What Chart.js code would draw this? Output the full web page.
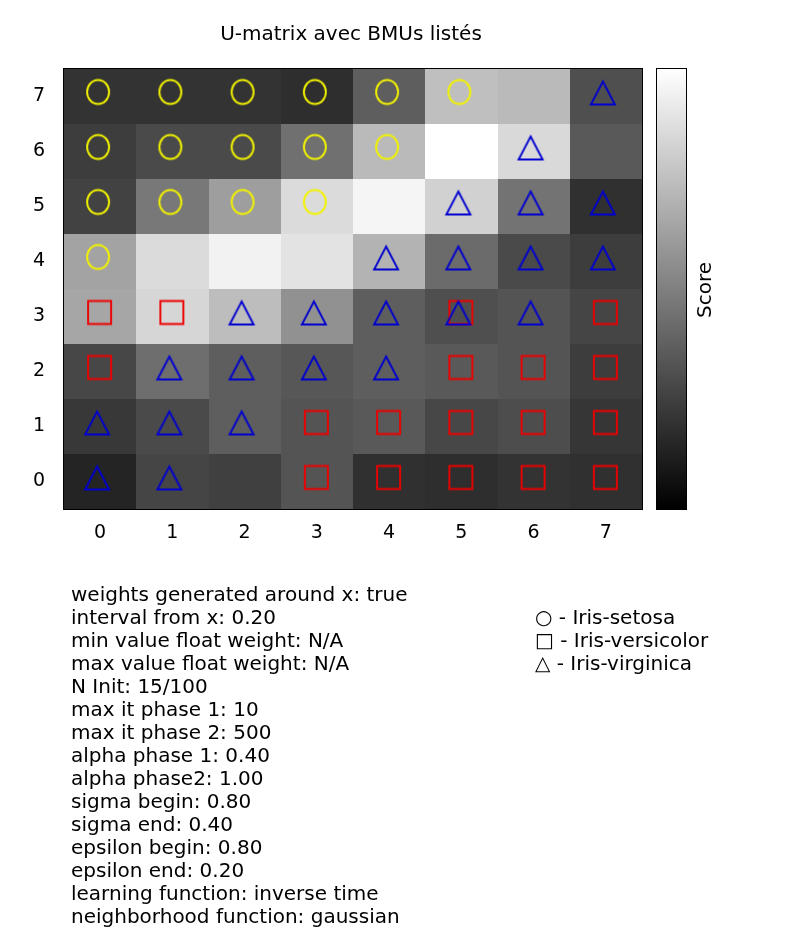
<!DOCTYPE html>
<html>
<head>
<meta charset="utf-8">
<script src="https://cdn.jsdelivr.net/npm/chart.js@4/dist/chart.umd.min.js"></script>
<style>
html,body{margin:0;padding:0;background:#fff;}
#wrap{position:relative;width:798px;height:947px;font-family:"DejaVu Sans",sans-serif;color:#000;overflow:hidden;}
#c{position:absolute;left:0;top:0;}
#title{position:absolute;top:21px;left:0;width:702px;text-align:center;font-size:20px;line-height:24px;white-space:nowrap;}
#params{position:absolute;left:71px;top:583px;font-size:20px;line-height:23px;white-space:nowrap;}
#legend{position:absolute;left:535px;top:606px;font-size:20px;line-height:23px;white-space:nowrap;}
#score{position:absolute;left:704px;top:290px;font-size:20px;line-height:22px;transform:translate(-50%,-50%) rotate(-90deg);white-space:nowrap;}
</style>
</head>
<body>
<div id="wrap">
<canvas id="c" width="798" height="947"></canvas>
<div id="title">U-matrix avec BMUs listés</div>
<div id="score">Score</div>
<div id="params"></div>
<div id="legend"></div>
</div>
<script>
// ---- data ----
const xLabels = [0, 1, 2, 3, 4, 5, 6, 7];
const yLabels = [0, 1, 2, 3, 4, 5, 6, 7];
// U-matrix scores (0 = black, 1 = white), row index = y label (row 0 first)
const scoreRow0 = [0.14, 0.27, 0.25, 0.33, 0.19, 0.18, 0.20, 0.19];
const scoreRow1 = [0.22, 0.29, 0.37, 0.33, 0.35, 0.28, 0.30, 0.21];
const scoreRow2 = [0.28, 0.43, 0.37, 0.34, 0.37, 0.35, 0.33, 0.24];
const scoreRow3 = [0.65, 0.84, 0.74, 0.57, 0.37, 0.31, 0.33, 0.27];
const scoreRow4 = [0.64, 0.86, 0.95, 0.89, 0.70, 0.42, 0.29, 0.24];
const scoreRow5 = [0.26, 0.47, 0.62, 0.86, 0.96, 0.82, 0.45, 0.19];
const scoreRow6 = [0.24, 0.29, 0.29, 0.44, 0.73, 1.00, 0.85, 0.35];
const scoreRow7 = [0.20, 0.20, 0.20, 0.18, 0.37, 0.75, 0.73, 0.31];
const scores = [scoreRow0, scoreRow1, scoreRow2, scoreRow3, scoreRow4, scoreRow5, scoreRow6, scoreRow7];

// BMU cells [x, y] for each class
const setosaCells = [[0,7],[1,7],[2,7],[3,7],[4,7],[5,7],[0,6],[1,6],[2,6],[3,6],[4,6],[0,5],[1,5],[2,5],[3,5],[0,4]];
const versicolorCells = [[0,3],[1,3],[5,3],[7,3],[0,2],[5,2],[6,2],[7,2],[3,1],[4,1],[5,1],[6,1],[7,1],[3,0],[4,0],[5,0],[6,0],[7,0]];
const virginicaCells = [[7,7],[6,6],[5,5],[6,5],[7,5],[4,4],[5,4],[6,4],[7,4],[2,3],[3,3],[4,3],[5,3],[6,3],[1,2],[2,2],[3,2],[4,2],[0,1],[1,1],[2,1],[0,0],[1,0]];

const paramLines = [
  "weights generated around x: true",
  "interval from x: 0.20",
  "min value float weight: N/A",
  "max value float weight: N/A",
  "N Init: 15/100",
  "max it phase 1: 10",
  "max it phase 2: 500",
  "alpha phase 1: 0.40",
  "alpha phase2: 1.00",
  "sigma begin: 0.80",
  "sigma end: 0.40",
  "epsilon begin: 0.80",
  "epsilon end: 0.20",
  "learning function: inverse time",
  "neighborhood function: gaussian"
];
const legendLines = ["○ - Iris-setosa", "□ - Iris-versicolor", "△ - Iris-virginica"];

// ---- text ----
document.getElementById('params').innerHTML = paramLines.map(t => '<div>' + t + '</div>').join('');
document.getElementById('legend').innerHTML = legendLines.map(t => '<div>' + t + '</div>').join('');

// ---- markers ----
function makeMarker(shape, color) {
  const cv = document.createElement('canvas');
  cv.width = 40; cv.height = 40;
  const g = cv.getContext('2d');
  g.strokeStyle = color;
  g.lineWidth = 1.9;
  g.beginPath();
  if (shape === 'circle') {
    const cx = 18, cy = 15.5;
    g.ellipse(cx, cy, 11, 12, 0, 0, Math.PI * 2);
  } else if (shape === 'square') {
    const cx = 19.5, cy = 16;
    g.rect(cx - 11.5, cy - 11.5, 23, 23);
  } else {
    const cx = 17, cy = 16.5;
    g.moveTo(cx, cy - 11.5);
    g.lineTo(cx + 12, cy + 11.5);
    g.lineTo(cx - 12, cy + 11.5);
    g.closePath();
  }
  g.stroke();
  return cv;
}

function grayOf(v) {
  const g = Math.round(Math.max(0, Math.min(1, v)) * 255);
  return 'rgb(' + g + ',' + g + ',' + g + ')';
}

const heatPlugin = {
  id: 'heat',
  beforeDatasetsDraw(chart) {
    const ctx = chart.ctx;
    const xs = chart.scales.x, ys = chart.scales.y;
    const area = chart.chartArea;
    ctx.save();
    for (let r = 0; r < yLabels.length; r++) {
      for (let c = 0; c < xLabels.length; c++) {
        const l = Math.round(xs.getPixelForValue(xLabels[c] - 0.5));
        const rr = Math.round(xs.getPixelForValue(xLabels[c] + 0.5));
        const t = Math.round(ys.getPixelForValue(yLabels[r] + 0.5));
        const b = Math.round(ys.getPixelForValue(yLabels[r] - 0.5));
        ctx.fillStyle = grayOf(scores[r][c]);
        ctx.fillRect(l, t, rr - l, b - t);
      }
    }
    ctx.strokeStyle = '#000';
    ctx.lineWidth = 1;
    ctx.strokeRect(Math.round(area.left) - 0.5, Math.round(area.top) - 0.5, Math.round(area.right - area.left) + 1, Math.round(area.bottom - area.top) + 1);
    // colorbar
    const cbL = 657, cbW = 29;
    const top = Math.round(area.top), bot = Math.round(area.bottom);
    const grad = ctx.createLinearGradient(0, bot, 0, top);
    grad.addColorStop(0, grayOf(0));
    grad.addColorStop(1, grayOf(1));
    ctx.fillStyle = grad;
    ctx.fillRect(cbL, top, cbW, bot - top);
    ctx.strokeRect(cbL - 0.5, top - 0.5, cbW + 1, bot - top + 1);
    ctx.restore();
  }
};

const toPts = cells => cells.map(([x, y]) => ({ x, y }));
const tickFont = { family: 'DejaVu Sans', size: 19 };

new Chart(document.getElementById('c'), {
  type: 'scatter',
  data: {
    datasets: [
      { label: 'Iris-virginica', data: toPts(virginicaCells), pointStyle: makeMarker('triangle', '#0000d0'), order: 0 },
      { label: 'Iris-versicolor', data: toPts(versicolorCells), pointStyle: makeMarker('square', '#ee0000'), order: 1 },
      { label: 'Iris-setosa', data: toPts(setosaCells), pointStyle: makeMarker('circle', '#f2f200'), order: 2 }
    ]
  },
  options: {
    responsive: false,
    animation: false,
    devicePixelRatio: 1,
    layout: { padding: { left: 0, top: 69, right: 156, bottom: 387 } },
    plugins: { legend: { display: false }, tooltip: { enabled: false }, title: { display: false } },
    elements: { point: { radius: 12, hoverRadius: 12 } },
    scales: {
      x: {
        type: 'linear', min: -0.5, max: 7.5,
        afterBuildTicks: s => { s.ticks = xLabels.map(v => ({ value: v })); },
        afterFit: s => { s.height = 51; },
        grid: { display: false, drawTicks: false },
        border: { display: false },
        ticks: { font: tickFont, color: '#000', padding: 13, maxRotation: 0, autoSkip: false }
      },
      y: {
        type: 'linear', min: -0.5, max: 7.5,
        afterBuildTicks: s => { s.ticks = yLabels.map(v => ({ value: v })); },
        afterFit: s => { s.width = 64; },
        grid: { display: false, drawTicks: false },
        border: { display: false },
        ticks: { font: tickFont, color: '#000', padding: 19, autoSkip: false }
      }
    }
  },
  plugins: [heatPlugin]
});
</script>
</body>
</html>
